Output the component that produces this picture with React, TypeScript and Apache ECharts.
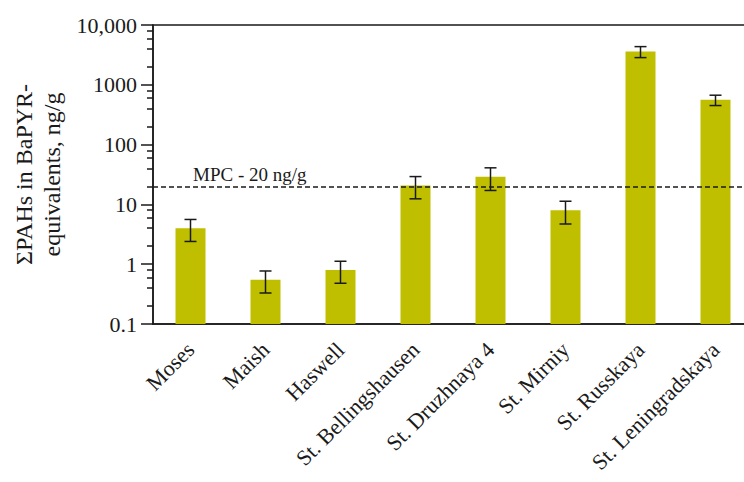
import React, { useEffect, useRef } from "react";
import * as echarts from "echarts";

const categories = [
  "Moses",
  "Maish",
  "Haswell",
  "St. Bellingshausen",
  "St. Druzhnaya 4",
  "St. Mirniy",
  "St. Russkaya",
  "St. Leningradskaya",
];
const means = [4.0, 0.55, 0.8, 20.8, 29, 8.0, 3600, 560];
const errors = [1.6, 0.22, 0.32, 8.4, 11.9, 3.3, 750, 110];
const mpcValue = 20;
const mpcLabel = "MPC - 20 ng/g";
const minorTickValues = [
  0.2, 0.4, 0.6, 0.8, 2, 4, 6, 8, 20, 40, 60, 80, 200, 400, 600, 800, 2000, 4000, 6000, 8000,
];

const FONT = "'Liberation Serif', 'Times New Roman', serif";
const INK = "#1a1a1a";
const BAR = "#bfbf00";

export default function App() {
  const ref = useRef<HTMLDivElement>(null);
  useEffect(() => {
    if (!ref.current) return;
    const chart = echarts.init(ref.current, null, { renderer: "svg" });
    const errData = categories.map((_, i) => [i, means[i] - errors[i], means[i] + errors[i]]);
    chart.setOption({
      animation: false,
      backgroundColor: "#ffffff",
      grid: {
        left: 153,
        top: 25,
        width: 600,
        height: 299,
        outerBoundsMode: "none",
        containLabel: false,
        show: true,
        borderColor: INK,
        borderWidth: 1.5,
        backgroundColor: "transparent",
      },
      xAxis: {
        type: "category",
        data: categories,
        axisLine: { lineStyle: { color: INK, width: 1.5 } },
        axisTick: { alignWithLabel: true, length: 12, lineStyle: { color: INK, width: 1.5 } },
        axisLabel: {
          interval: 0,
          rotate: 45,
          fontFamily: FONT,
          fontSize: 22,
          color: INK,
          margin: 22,
        },
        splitLine: { show: false },
      },
      yAxis: [
        {
          type: "log",
          logBase: 10,
          min: 0.1,
          max: 10000,
          startValue: 0.1,
          axisLine: { show: true, lineStyle: { color: INK, width: 1.5 } },
          axisTick: { show: true, length: 12, lineStyle: { color: INK, width: 1.5 } },
          axisLabel: {
            fontFamily: FONT,
            fontSize: 22,
            color: INK,
            margin: 16,
            formatter: (v: number) => (v >= 10000 ? "10,000" : String(v)),
          },
          splitLine: { show: false },
          name: "ΣPAHs in BaPYR-\nequivalents, ng/g",
          nameLocation: "middle",
          nameRotate: 90,
          nameGap: 84,
          nameTextStyle: {
            fontFamily: FONT,
            fontSize: 24,
            lineHeight: 28,
            color: INK,
          },
        },
        {
          type: "log",
          logBase: 10,
          min: 0.1,
          max: 10000,
          position: "left",
          axisLine: { show: false },
          axisTick: {
            show: true,
            length: 6,
            customValues: minorTickValues,
            lineStyle: { color: INK, width: 1.5 },
          },
          axisLabel: { show: false },
          splitLine: { show: false },
        },
      ],
      series: [
        {
          type: "bar",
          z: 2,
          data: means,
          barWidth: 30,
          itemStyle: { color: BAR },
          markLine: {
            silent: true,
            symbol: "none",
            data: [{ yAxis: mpcValue }],
            lineStyle: { type: [5, 3], color: INK, width: 1.5 },
            label: {
              show: true,
              position: "insideStartTop",
              formatter: mpcLabel,
              fontFamily: FONT,
              fontSize: 19,
              color: INK,
              distance: [40, 2],
            },
          },
        },
        {
          type: "custom",
          z: 10,
          data: errData,
          encode: { x: 0, y: [1, 2] },
          renderItem: (params: any, api: any) => {
            const x = api.value(0);
            const lo = api.coord([x, api.value(1)]);
            const hi = api.coord([x, api.value(2)]);
            const hw = 6;
            const style = { stroke: INK, lineWidth: 1.5, fill: "none" };
            return {
              type: "group",
              children: [
                { type: "line", z2: 10, shape: { x1: hi[0], y1: hi[1], x2: lo[0], y2: lo[1] }, style },
                { type: "line", z2: 10, shape: { x1: hi[0] - hw, y1: hi[1], x2: hi[0] + hw, y2: hi[1] }, style },
                { type: "line", z2: 10, shape: { x1: lo[0] - hw, y1: lo[1], x2: lo[0] + hw, y2: lo[1] }, style },
              ],
            };
          },
        },
      ],
    });
    return () => chart.dispose();
  }, []);
  return (
    <div
      ref={ref}
      style={{ position: "absolute", left: 0, top: 0, width: 744, height: 482 }}
    />
  );
}
